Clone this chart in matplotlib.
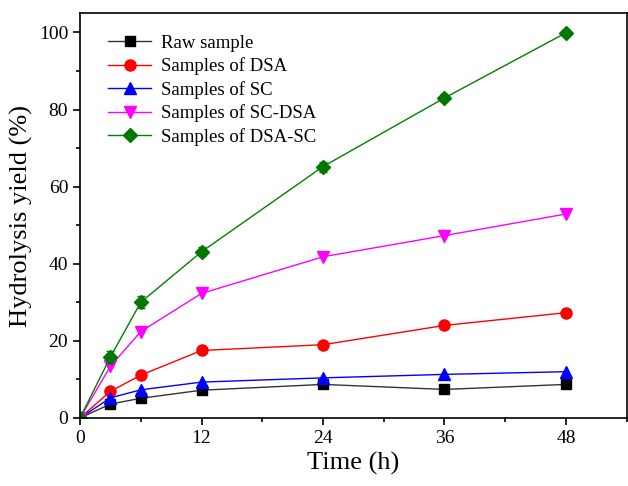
import matplotlib.pyplot as plt
from matplotlib.ticker import MultipleLocator

plt.rcParams['font.family'] = ['Liberation Serif', 'DejaVu Serif']

time_h = [0, 3, 6, 12, 24, 36, 48]
raw_sample = [0, 3.6, 5.1, 7.2, 8.7, 7.4, 8.7]
samples_dsa = [0, 6.9, 11.1, 17.5, 19.0, 24.0, 27.3]
samples_sc = [0, 5.2, 7.3, 9.3, 10.4, 11.3, 12.0]
samples_sc_dsa = [0, 13.4, 22.4, 32.3, 41.8, 47.3, 52.9]
samples_dsa_sc = [0, 15.8, 30.0, 43.1, 65.2, 83.0, 99.9]
dsa_sc_err = [0, 1.5, 1.6, 1.2, 1.3, 0.9, 0.8]

series_labels = ['Raw sample', 'Samples of DSA', 'Samples of SC',
                 'Samples of SC-DSA', 'Samples of DSA-SC']

fig = plt.figure(figsize=(6.28, 4.86), dpi=100)
ax = fig.add_axes([0.1274, 0.140, 0.8706, 0.833])

ax.plot(time_h, raw_sample, color='#333333', lw=1, marker='s', ms=7,
        mfc='black', mec='black', label=series_labels[0])
ax.plot(time_h, samples_dsa, color='red', lw=1, marker='o', ms=8,
        label=series_labels[1])
ax.plot(time_h, samples_sc, color='blue', lw=1, marker='^', ms=8,
        label=series_labels[2])
ax.plot(time_h, samples_sc_dsa, color='magenta', lw=1, marker='v', ms=8,
        label=series_labels[3])
# error bars drawn separately so the legend handle stays a plain line
ax.errorbar(time_h, samples_dsa_sc, yerr=dsa_sc_err, fmt='none',
            ecolor='#007700', elinewidth=1, capsize=3)
ax.plot(time_h, samples_dsa_sc, color='green', lw=1, marker='D', ms=7,
        mfc='#007700', mec='#007700', label=series_labels[4])

ax.set_xlim(0, 54)
ax.set_ylim(0, 105)
ax.xaxis.set_major_locator(MultipleLocator(12))
ax.xaxis.set_minor_locator(MultipleLocator(6))
ax.yaxis.set_major_locator(MultipleLocator(20))
ax.yaxis.set_minor_locator(MultipleLocator(10))
ax.tick_params(which='major', direction='out', length=5, width=1.2, labelsize=14)
ax.tick_params(which='minor', direction='out', length=3, width=1.2)
for s in ax.spines.values():
    s.set_linewidth(1.2)

ax.set_xlabel('Time (h)', fontsize=19)
ax.set_ylabel('Hydrolysis yield (%)', fontsize=19)

ax.legend(loc='upper left', bbox_to_anchor=(0.038, 0.965), frameon=False,
          fontsize=13.5, handlelength=2.3, handletextpad=0.5,
          labelspacing=0.3, borderaxespad=0)

fig.savefig('out.png', dpi=100)
